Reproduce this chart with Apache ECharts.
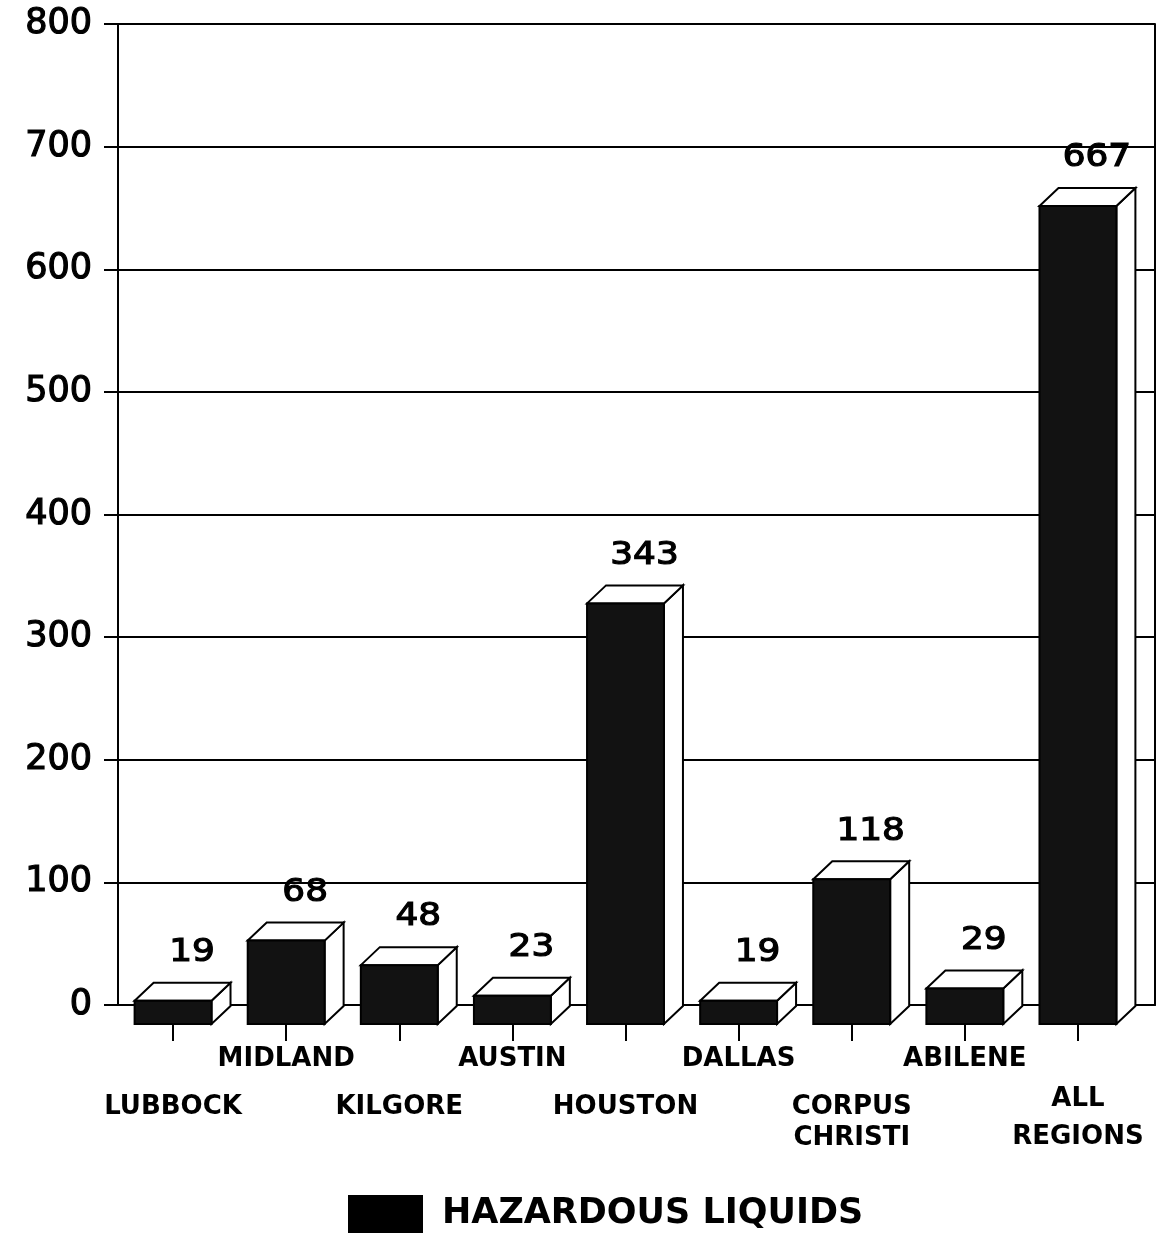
<!DOCTYPE html>
<html>
<head>
<meta charset="utf-8">
<script src="https://cdn.jsdelivr.net/npm/echarts@6/dist/echarts.min.js"></script>
<style>
html,body{margin:0;padding:0;background:#fff;}
#chart{width:1157px;height:1241px;}
</style>
</head>
<body>
<div id="chart"></div>
<script>
// ---- data ----
var categories = ['LUBBOCK', 'MIDLAND', 'KILGORE', 'AUSTIN', 'HOUSTON', 'DALLAS', 'CORPUS CHRISTI', 'ABILENE', 'ALL REGIONS'];
var categoryLines = [['LUBBOCK'], ['MIDLAND'], ['KILGORE'], ['AUSTIN'], ['HOUSTON'], ['DALLAS'], ['CORPUS', 'CHRISTI'], ['ABILENE'], ['ALL', 'REGIONS']];
var hazardousLiquids = [19, 68, 48, 23, 343, 19, 118, 29, 667];
var seriesName = 'HAZARDOUS LIQUIDS';
var yTicks = [0, 100, 200, 300, 400, 500, 600, 700, 800];

// ---- chart ----
var DX = 19, DY = 18;
var chart = echarts.init(document.getElementById('chart'), null, {renderer: 'canvas'});

function labelFormatter(value, index) {
  var lines = categoryLines[index];
  if (index === categories.length - 1) {
    return '{g2|\u00a0}\n' + lines.map(function (l) { return '{ar|' + l + '}'; }).join('\n');
  }
  if (index % 2 === 1) {
    return '{up|' + lines[0] + '}';
  }
  return '{g|\u00a0}\n' + lines.map(function (l) { return '{lo|' + l + '}'; }).join('\n');
}

var labelFont = {fontFamily: 'DejaVu Sans', fontWeight: 'bold', fontSize: 26, color: '#000'};

var option = {
  backgroundColor: '#fff',
  animation: false,
  grid: [
    {left: 118, right: 2, top: 24, bottom: 236},
    {left: 116.5, right: 22.5, top: 43, bottom: 217}
  ],
  legend: {
    data: [seriesName],
    left: 348,
    top: 1195,
    padding: 0,
    itemWidth: 75,
    itemHeight: 38,
    icon: 'rect',
    itemStyle: {color: '#000'},
    textStyle: {fontFamily: 'DejaVu Sans', fontWeight: 'bold', fontSize: 35, color: '#000', padding: [0, 0, 0, 14]}
  },
  xAxis: [
    {
      type: 'category', gridIndex: 0, data: categories,
      axisLine: {show: true, lineStyle: {color: '#000', width: 2}},
      axisTick: {show: false}, axisLabel: {show: false}, splitLine: {show: false}
    },
    {
      type: 'category', gridIndex: 1, data: categories,
      axisLine: {show: false},
      axisTick: {show: true, alignWithLabel: true, length: 17, lineStyle: {color: '#000', width: 2}},
      axisLabel: {
        show: true, interval: 0, margin: 14, formatter: labelFormatter,
        rich: {
          up: Object.assign({lineHeight: 42}, labelFont),
          g: {lineHeight: 54, fontSize: 10},
          lo: Object.assign({lineHeight: 31}, labelFont),
          g2: {lineHeight: 42, fontSize: 10},
          ar: Object.assign({lineHeight: 38}, labelFont)
        }
      },
      splitLine: {show: false}
    }
  ],
  yAxis: [
    {
      type: 'value', gridIndex: 0, min: yTicks[0], max: yTicks[yTicks.length - 1], interval: 100,
      axisLine: {show: true, lineStyle: {color: '#000', width: 2}},
      axisTick: {show: true, length: 14, lineStyle: {color: '#000', width: 2}},
      axisLabel: {margin: 26, fontFamily: 'DejaVu Sans', fontSize: 35, color: '#000',
        textBorderColor: '#000', textBorderWidth: 1.2},
      splitLine: {show: true, lineStyle: {color: '#000', width: 1.8}}
    },
    {
      type: 'value', gridIndex: 0, position: 'right', min: yTicks[0], max: yTicks[yTicks.length - 1], interval: 100,
      axisLine: {show: true, lineStyle: {color: '#000', width: 2}},
      axisTick: {show: false}, axisLabel: {show: false}, splitLine: {show: false}
    },
    {
      type: 'value', gridIndex: 1, min: yTicks[0], max: yTicks[yTicks.length - 1], interval: 100,
      show: false
    }
  ],
  series: [
    {
      name: seriesName,
      type: 'custom',
      xAxisIndex: 1,
      yAxisIndex: 2,
      itemStyle: {color: '#000'},
      data: hazardousLiquids.map(function (v, i) { return [i, v]; }),
      renderItem: function (params, api) {
        var i = api.value(0), v = api.value(1);
        var top = api.coord([i, v]);
        var base = api.coord([i, 0]);
        var bw = api.size([1, 0])[0] * 0.68;
        var xl = top[0] - bw / 2, xr = top[0] + bw / 2;
        var yt = top[1], yb = base[1];
        var stroke = {stroke: '#000', lineWidth: 2, lineJoin: 'miter'};
        return {
          type: 'group',
          children: [
            {type: 'polygon', shape: {points: [[xr, yt], [xr + DX, yt - DY], [xr + DX, yb - DY], [xr, yb]]},
              style: Object.assign({fill: '#fff'}, stroke)},
            {type: 'polygon', shape: {points: [[xl, yt], [xr, yt], [xr + DX, yt - DY], [xl + DX, yt - DY]]},
              style: Object.assign({fill: '#fff'}, stroke)},
            {type: 'rect', shape: {x: xl, y: yt, width: bw, height: yb - yt},
              style: Object.assign({fill: '#121212'}, stroke)},
            {type: 'text', x: top[0] + DX, y: yt - DY - 30, scaleX: 1.12,
              style: {text: String(v), fontFamily: 'DejaVu Sans', fontSize: 32, fill: '#000',
                stroke: '#000', lineWidth: 1.2,
                align: 'center', verticalAlign: 'middle'}}
          ]
        };
      }
    }
  ]
};
chart.setOption(option);
</script>
</body>
</html>
